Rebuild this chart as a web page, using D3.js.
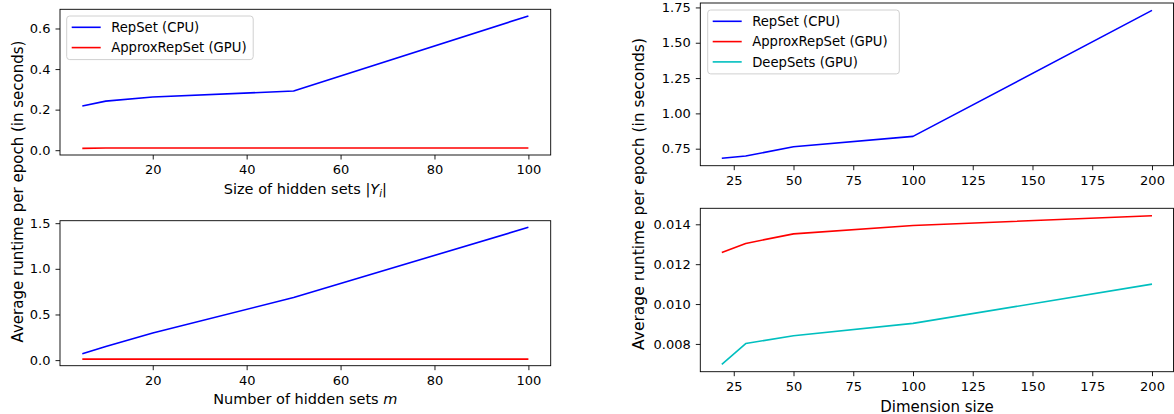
<!DOCTYPE html>
<html><head><meta charset="utf-8">
<script src="https://cdn.jsdelivr.net/npm/d3@7"></script>
<style>
html,body{margin:0;padding:0;background:#fff;}
svg text{font-family:"DejaVu Sans",sans-serif;fill:#000;}
</style></head>
<body>
<script>
// ---- data ----
const hiddenSizes = [5, 10, 20, 50, 100];
const repsetBySize = [0.218, 0.242, 0.262, 0.292, 0.662];
const approxBySize = [0.009, 0.011, 0.011, 0.011, 0.011];

const numSets = [5, 10, 20, 50, 100];
const repsetByNum = [0.07, 0.15, 0.298, 0.685, 1.455];
const approxByNum = [0.011, 0.011, 0.011, 0.011, 0.011];

const dims = [20, 30, 50, 100, 200];
const repsetByDim = [0.682, 0.698, 0.764, 0.837, 1.729];
const approxByDim = [0.01259, 0.01304, 0.01352, 0.01394, 0.01443];
const deepsetsByDim = [0.00698, 0.00802, 0.00841, 0.00903, 0.01100];

const xTicksLeft = [20, 40, 60, 80, 100];
const xTicksRight = [25, 50, 75, 100, 125, 150, 175, 200];
const yTicksSize = [0.0, 0.2, 0.4, 0.6];
const yTicksNum = [0.0, 0.5, 1.0, 1.5];
const yTicksDimTop = [0.75, 1.00, 1.25, 1.50, 1.75];
const yTicksDimBottom = [0.008, 0.010, 0.012, 0.014];

const seriesNames = ["RepSet (CPU)", "ApproxRepSet (GPU)", "DeepSets (GPU)"];
const colors = {"RepSet (CPU)": "#0000ff", "ApproxRepSet (GPU)": "#ff0000", "DeepSets (GPU)": "#00bfbf"};

// ---- drawing ----
const W = 1174, H = 414;
const svg = d3.select("body").append("svg").attr("width", W).attr("height", H);
const TICK_FS = 13;
const LEG_FS = 13.2;

function padDomain(arrs) {
  const all = arrs.flat();
  const lo = d3.min(all), hi = d3.max(all), r = hi - lo;
  return [lo - 0.05 * r, hi + 0.05 * r];
}

function styleAxis(a) {
  a.select(".domain").remove();
  a.selectAll("text").attr("font-size", TICK_FS).attr("font-family", "DejaVu Sans").attr("fill", "#000");
  a.selectAll("line").attr("stroke-width", 0.9);
}

function panel(opt) {
  const {x0, x1, y0, y1, xs, series, xTicks, yTicks, yFmt} = opt;
  const x = d3.scaleLinear().domain(padDomain([xs])).range([x0, x1]);
  const y = d3.scaleLinear().domain(padDomain(series.map(s => s.values))).range([y1, y0]);
  const g = svg.append("g");
  g.append("g").attr("transform", `translate(0,${y1})`)
    .call(d3.axisBottom(x).tickValues(xTicks).tickSize(4.5).tickPadding(5.5).tickFormat(d3.format("d")))
    .call(styleAxis);
  g.append("g").attr("transform", `translate(${x0},0)`)
    .call(d3.axisLeft(y).tickValues(yTicks).tickSize(4.5).tickPadding(5).tickFormat(yFmt))
    .call(styleAxis);
  const line = d3.line().x((d, i) => x(xs[i])).y(d => y(d));
  series.forEach(s => {
    g.append("path").datum(s.values).attr("d", line).attr("fill", "none")
      .attr("stroke", colors[s.name]).attr("stroke-width", 1.6).attr("stroke-linejoin", "round");
  });
  g.append("rect").attr("x", x0).attr("y", y0).attr("width", x1 - x0).attr("height", y1 - y0)
    .attr("fill", "none").attr("stroke", "#000").attr("stroke-width", 0.9);
  return g;
}

function legend(x, y, w, names) {
  const rowH = 20.3;
  const g = svg.append("g");
  g.append("rect").attr("x", x).attr("y", y).attr("width", w).attr("height", names.length * rowH + 3)
    .attr("rx", 3).attr("fill", "#fff").attr("fill-opacity", 0.8).attr("stroke", "#d0d0d0").attr("stroke-width", 1);
  names.forEach((n, i) => {
    const cy = y + 11.3 + i * rowH;
    g.append("line").attr("x1", x + 5).attr("x2", x + 34).attr("y1", cy).attr("y2", cy)
      .attr("stroke", colors[n]).attr("stroke-width", 1.6);
    g.append("text").attr("x", x + 44.5).attr("y", cy).attr("dy", "0.35em").attr("font-size", LEG_FS).text(n);
  });
}

// top-left
panel({x0: 60, x1: 550.7, y0: 9.3, y1: 155, xs: hiddenSizes,
  series: [{name: seriesNames[0], values: repsetBySize}, {name: seriesNames[1], values: approxBySize}],
  xTicks: xTicksLeft, yTicks: yTicksSize, yFmt: d3.format(".1f")});
legend(66.7, 16, 186.5, seriesNames.slice(0, 2));
const tl = svg.append("text").attr("x", 305.3).attr("y", 194.3).attr("text-anchor", "middle").attr("font-size", 14.5);
tl.append("tspan").text("Size of hidden sets |");
tl.append("tspan").attr("font-style", "italic").text("Y");
tl.append("tspan").attr("font-size", 10).attr("dy", 3).attr("font-style", "italic").text("i");
tl.append("tspan").attr("dy", -3).text("|");

// bottom-left
panel({x0: 60, x1: 550.7, y0: 220.7, y1: 365.7, xs: numSets,
  series: [{name: seriesNames[0], values: repsetByNum}, {name: seriesNames[1], values: approxByNum}],
  xTicks: xTicksLeft, yTicks: yTicksNum, yFmt: d3.format(".1f")});
const bl = svg.append("text").attr("x", 305.3).attr("y", 404).attr("text-anchor", "middle").attr("font-size", 14.5);
bl.append("tspan").text("Number of hidden sets ");
bl.append("tspan").attr("font-style", "italic").text("m");

// left y label
svg.append("text").attr("transform", "translate(22.5,191.5) rotate(-90)").attr("text-anchor", "middle")
  .attr("font-size", 15).text("Average runtime per epoch (in seconds)");

// top-right
panel({x0: 700.3, x1: 1173.5, y0: 3, y1: 165.7, xs: dims,
  series: [{name: seriesNames[0], values: repsetByDim}],
  xTicks: xTicksRight, yTicks: yTicksDimTop, yFmt: d3.format(".2f")});
legend(707.7, 10, 191.6, seriesNames);

// bottom-right
panel({x0: 700.3, x1: 1173.5, y0: 208.3, y1: 371.7, xs: dims,
  series: [{name: seriesNames[1], values: approxByDim}, {name: seriesNames[2], values: deepsetsByDim}],
  xTicks: xTicksRight, yTicks: yTicksDimBottom, yFmt: d3.format(".3f")});
svg.append("text").attr("x", 937).attr("y", 411.5).attr("text-anchor", "middle").attr("font-size", 15).text("Dimension size");

svg.append("text").attr("transform", "translate(644,194) rotate(-90)").attr("text-anchor", "middle")
  .attr("font-size", 15.5).text("Average runtime per epoch (in seconds)");
</script>
</body></html>
